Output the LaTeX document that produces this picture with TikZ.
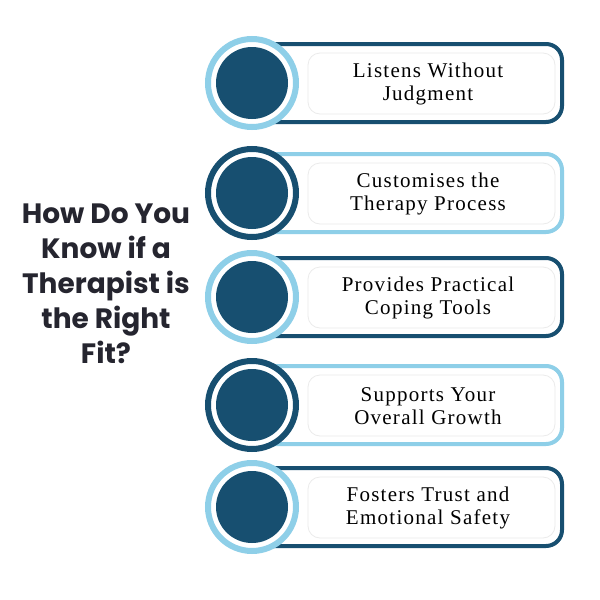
\documentclass[tikz,border=0pt]{standalone}
\usepackage{fontspec}
\setmainfont{Liberation Serif}
\newfontfamily\cardfont[LetterSpace=6]{Liberation Serif}
\newfontfamily\titlefont{Poppins}
\definecolor{navy}{HTML}{174F70}
\definecolor{sky}{HTML}{8ECFE8}
\definecolor{ink}{HTML}{25252F}
\begin{document}
\begin{tikzpicture}[x=1pt,y=-1pt,
  band/.style={line width=4pt,rounded corners=16pt,fill=white},
  card/.style={draw=black!8,line width=0.8pt,rounded corners=12pt,fill=white},
  ring/.style={circle,line width=6pt,fill=white,minimum size=88pt,inner sep=0pt},
  dot/.style={circle,fill=navy,minimum size=72pt,inner sep=0pt},
  lbl/.style={font=\cardfont\fontsize{21}{23}\selectfont,align=center,text=black}]
\fill[white] (0,0) rectangle (600,600);
\useasboundingbox (0,0) rectangle (600,600);
\node[font=\titlefont\bfseries\fontsize{28}{35}\selectfont,text=ink,align=center] (title) at (106,284) {How Do You\\Know if a\\Therapist is\\the Right\\Fit?};
\foreach \y/\bc/\rc/\t [count=\i] in {83/navy/sky/{Listens Without\\Judgment},193/sky/navy/{Customises the\\Therapy Process},297/navy/sky/{Provides Practical\\Coping Tools},405/sky/navy/{Supports Your\\Overall Growth},507/navy/sky/{Fosters Trust and\\Emotional Safety}}{
  \draw[band,draw=\bc] (255,\y-39) rectangle (562,\y+39);
  \draw[card] (308,\y-30) rectangle (555,\y+31);
  \node[lbl] (t\i) at (428,\y+1) {\t};
  \node[ring,draw=\rc] (r\i) at (252,\y) {};
  \node[dot] (d\i) at (r\i) {};
}
\end{tikzpicture}
\end{document}
